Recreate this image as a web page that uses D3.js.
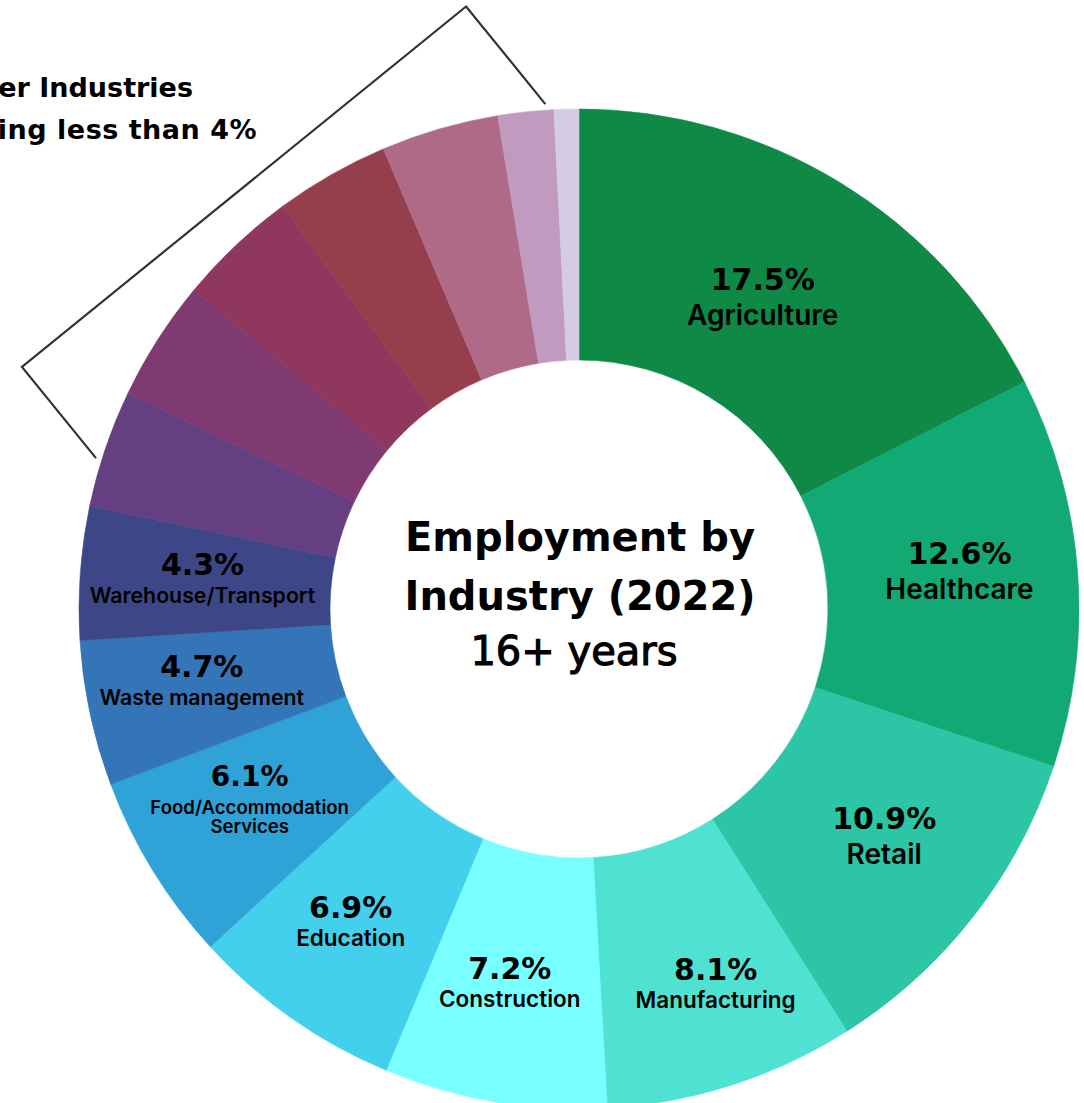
<!DOCTYPE html>
<html><head><meta charset="utf-8">
<script src="https://cdn.jsdelivr.net/npm/d3@7/dist/d3.min.js"></script>
<style>
html,body{margin:0;padding:0;background:#fff;overflow:hidden;}
svg{display:block;}
</style></head>
<body>
<script>
// ---------- data ----------
const industries = ["Agriculture","Healthcare","Retail","Manufacturing","Construction","Education",
  "Food/Accommodation Services","Waste management","Warehouse/Transport",
  "Other A","Other B","Other C","Other D","Other E","Other F","Other G"];
const shares = [17.5,12.6,10.9,8.1,7.2,6.9,6.1,4.7,4.3,3.8,3.9,3.9,3.7,3.8,1.8,0.8];
const labelled = [true,true,true,true,true,true,true,true,true,false,false,false,false,false,false,false];
const nameLines = [["Agriculture"],["Healthcare"],["Retail"],["Manufacturing"],["Construction"],["Education"],
  ["Food/Accommodation","Services"],["Waste management"],["Warehouse/Transport"]];
const sliceColors = ["#0e8a46","#12a974","#2cc5a5","#4fe2d3","#78ffff","#43d0ec","#2fa2d8","#3475b8","#3d4787",
  "#643f81","#7f3a72","#8f375e","#963e4c","#af6a88","#c09abf","#d5cce4"];
const titleLines = ["Employment by","Industry (2022)","16+ years"];
const otherLabel = ["Other Industries","employing less than 4%"];

// ---------- layout ----------
const W = 1084, H = 1103;
const cx = 579, cy = 609, R = 500, r0 = 249;
const svg = d3.select("body").append("svg").attr("width", W).attr("height", H);
const g = svg.append("g").attr("transform", `translate(${cx},${cy})`);

const pie = d3.pie().sort(null).value(d => d);
const arcs = pie(shares);
const arc = d3.arc().innerRadius(r0).outerRadius(R);

g.selectAll("path.slice").data(arcs).join("path")
  .attr("class","slice")
  .attr("d", arc)
  .attr("fill", (d,i) => sliceColors[i])
  .attr("stroke", (d,i) => sliceColors[i])
  .attr("stroke-width", 0.6);

// ---------- slice labels ----------
const tier = ["L","L","L","M","M","M","F","S","S"];
const tierStyle = {
  L:{pct:30, name:28, pctDy:-6, nameDy:[29]},
  M:{pct:30, name:22.5, pctDy:-2, nameDy:[26]},
  S:{pct:30, name:21.3, pctDy:-3, nameDy:[25]},
  F:{pct:28, name:18.6, pctDy:-14, nameDy:[14,33]}
};
const nudge = [[-12,6],[7,-11],[10,-4],[22,16],[-6,3],[-13,5],[-10,-5],[-11,-7],[-3,-4]];
const centroidArc = d3.arc().innerRadius(r0).outerRadius(R);

arcs.forEach((a,i) => {
  if (!labelled[i]) return;
  const c = centroidArc.centroid(a);
  const st = tierStyle[tier[i]];
  const lg = g.append("g").attr("transform", `translate(${c[0]+nudge[i][0]},${c[1]+nudge[i][1]})`);
  lg.append("text").attr("text-anchor","middle").attr("y", st.pctDy)
    .style("font-family","'DejaVu Sans',sans-serif").style("font-weight","bold")
    .style("font-size", st.pct+"px").attr("fill","#000")
    .text(shares[i].toFixed(1)+"%");
  nameLines[i].forEach((ln,k) => {
    lg.append("text").attr("text-anchor","middle").attr("y", st.nameDy[k])
      .style("font-family","Inter,sans-serif").style("font-weight","600")
      .style("font-size", st.name+"px").attr("fill","#000")
      .text(ln);
  });
});

// ---------- centre title ----------
const tY = [-58, 1, 56];
const tX = [1, 1, -5];
titleLines.forEach((t,i) => {
  g.append("text").attr("text-anchor","middle").attr("x", tX[i]).attr("y", tY[i])
    .style("font-family","'DejaVu Sans',sans-serif")
    .style("font-weight", i < 2 ? "bold" : "normal")
    .style("font-size","40px").attr("fill","#000")
    .attr("stroke", i < 2 ? "none" : "#000").attr("stroke-width", 1.1)
    .text(t);
});

// ---------- bracket around small industries ----------
const otherStart = arcs[9].startAngle, otherEnd = arcs[arcs.length-1].endAngle;
const mid = (otherStart + otherEnd) / 2;
const u = [Math.sin(mid), -Math.cos(mid)];   // radial direction
const v = [Math.cos(mid), Math.sin(mid)];    // tangential (clockwise)
const D = 539, hwR = 292, hwL = -280, rEnd = R + 6;
const P = (ru, tv) => [ru*u[0] + tv*v[0], ru*u[1] + tv*v[1]];
const armR = Math.sqrt(rEnd*rEnd - hwR*hwR), armL = Math.sqrt(rEnd*rEnd - hwL*hwL);
const bracketPts = [P(armR, hwR), P(D, hwR), P(D, hwL), P(armL, hwL)];
g.append("path").attr("d", d3.line()(bracketPts))
  .attr("fill","none").attr("stroke","#333").attr("stroke-width",2.2);

// ---------- "other industries" label ----------
const oX = [193, 257], oY = [97, 139], oSpacing = [0, 0.5];
otherLabel.forEach((t,i) => {
  svg.append("text").attr("text-anchor","end").attr("x", oX[i]).attr("y", oY[i])
    .style("font-family","'DejaVu Sans',sans-serif").style("font-weight","bold")
    .style("letter-spacing", oSpacing[i]+"px")
    .style("font-size","27px").attr("fill","#000").text(t);
});
</script>
</body></html>
